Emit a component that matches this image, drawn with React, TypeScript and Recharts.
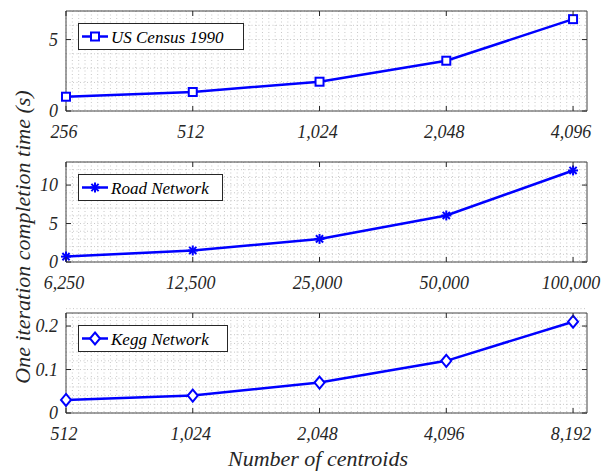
import React from 'react';
import { LineChart, Line, XAxis, YAxis, CartesianGrid, ReferenceArea, Legend } from 'recharts';

// ---- data ----
const censusCats = ['256', '512', '1,024', '2,048', '4,096'];
const censusVals = [1.0, 1.33, 2.05, 3.52, 6.43];
const roadCats = ['6,250', '12,500', '25,000', '50,000', '100,000'];
const roadVals = [0.7, 1.5, 3.0, 6.05, 11.9];
const keggCats = ['512', '1,024', '2,048', '4,096', '8,192'];
const keggVals = [0.03, 0.04, 0.07, 0.12, 0.21];

const censusYTicks = [0, 5];
const roadYTicks = [0, 5, 10];
const keggYTicks = [0, 0.1, 0.2];

const xTickIdx = [0, 1, 2, 3, 4];

// ---- style ----
const BLUE = '#0000ff';
const AXIS = '#262626';
const FONT = '"Liberation Serif", "Times New Roman", serif';
const W = 608;
const PLOT_W = 521;
const PLOT_H = 100;
const X_MAX = 4.11;

function range(start: number, end: number, step: number): number[] {
  const out: number[] = [];
  const n = Math.round((end - start) / step);
  for (let k = 0; k <= n; k++) out.push(+(start + k * step).toFixed(6));
  return out;
}
const xGrid = range(0, 4.1, 0.05);

type Shape = 'square' | 'star' | 'diamond';

function Marker({ cx, cy, shape }: { cx: number; cy: number; shape: Shape }) {
  if (shape === 'square') {
    return <rect x={cx - 4} y={cy - 4} width={8} height={8} fill="#fff" stroke={BLUE} strokeWidth={2} />;
  }
  if (shape === 'diamond') {
    return (
      <polygon
        points={`${cx},${cy - 6} ${cx + 5},${cy} ${cx},${cy + 6} ${cx - 5},${cy}`}
        fill="#fff"
        stroke={BLUE}
        strokeWidth={2}
      />
    );
  }
  const r = 5;
  const d = 3.6;
  return (
    <g stroke={BLUE} strokeWidth={2}>
      <line x1={cx} y1={cy - r} x2={cx} y2={cy + r} />
      <line x1={cx - r} y1={cy} x2={cx + r} y2={cy} />
      <line x1={cx - d} y1={cy - d} x2={cx + d} y2={cy + d} />
      <line x1={cx - d} y1={cy + d} x2={cx + d} y2={cy - d} />
    </g>
  );
}

function LegendBox({ name, shape, width }: { name: string; shape: Shape; width: number }) {
  return (
    <svg width={width} height={27} style={{ display: 'block' }}>
      <rect x={0.5} y={0.5} width={width - 1} height={26} fill="#fff" stroke={AXIS} strokeWidth={1} />
      <line x1={4} y1={13.5} x2={30} y2={13.5} stroke={BLUE} strokeWidth={2.5} />
      <Marker cx={17} cy={13.5} shape={shape} />
      <text x={33} y={19.5} fontFamily={FONT} fontStyle="italic" fontSize={17} fill="#000">
        {name}
      </text>
    </svg>
  );
}

interface PanelProps {
  top: number;
  name: string;
  cats: string[];
  vals: number[];
  yTicks: number[];
  yMax: number;
  yStep: number;
  shape: Shape;
  legendWidth: number;
}

function Panel({ top, name, cats, vals, yTicks, yMax, yStep, shape, legendWidth }: PanelProps) {
  const data = vals.map((v, i) => ({ i, v }));
  const yGrid = range(0, yMax, yStep);
  return (
    <div style={{ position: 'absolute', left: 0, top }}>
      <LineChart width={W} height={150} data={data} margin={{ top: 11, right: 21, left: 0, bottom: 0 }}>
        <CartesianGrid
          stroke="#c8c8c8"
          strokeDasharray="1 2.5"
          horizontalValues={yGrid}
          verticalValues={xGrid}
        />
        <XAxis
          type="number"
          dataKey="i"
          domain={[0, X_MAX]}
          ticks={xTickIdx}
          interval={0}
          axisLine={false}
          tickLine={false}
          tickSize={0}
          tickMargin={0}
          height={39}
          tick={(p: any) => (
            <g key={`xt-${p.index}`}>
              <line x1={p.x} x2={p.x} y1={p.y} y2={p.y - 5} stroke={AXIS} />
              <line x1={p.x} x2={p.x} y1={p.y - PLOT_H} y2={p.y - PLOT_H + 5} stroke={AXIS} />
              <text
                x={p.x - 2}
                y={p.y + 27}
                textAnchor="middle"
                fontFamily={FONT}
                fontStyle="italic"
                fontSize={18}
                fill={AXIS}
              >
                {cats[p.payload.value]}
              </text>
            </g>
          )}
        />
        <YAxis
          type="number"
          domain={[0, yMax]}
          ticks={yTicks}
          interval={0}
          axisLine={false}
          tickLine={false}
          tickSize={0}
          tickMargin={0}
          width={66}
          tick={(p: any) => (
            <g key={`yt-${p.index}`}>
              <line x1={p.x} x2={p.x + 5} y1={p.y} y2={p.y} stroke={AXIS} />
              <line x1={p.x + PLOT_W} x2={p.x + PLOT_W - 5} y1={p.y} y2={p.y} stroke={AXIS} />
              <text
                x={p.x - 8}
                y={p.y}
                textAnchor="end"
                dominantBaseline="central"
                fontFamily={FONT}
                fontStyle="italic"
                fontSize={18}
                fill={AXIS}
              >
                {String(p.payload.value)}
              </text>
            </g>
          )}
        />
        <ReferenceArea x1={0} x2={X_MAX} y1={0} y2={yMax} fill="none" stroke="#444" strokeWidth={1} />
        <Legend
          layout="horizontal"
          verticalAlign="middle"
          align="center"
          wrapperStyle={{ left: 78, top: 23, width: legendWidth }}
          content={() => <LegendBox name={name} shape={shape} width={legendWidth} />}
        />
        <Line
          type="linear"
          dataKey="v"
          name={name}
          stroke={BLUE}
          strokeWidth={2.5}
          isAnimationActive={false}
          dot={(p: any) => <Marker key={`d-${p.index}`} cx={p.cx} cy={p.cy} shape={shape} />}
          activeDot={false}
        />
      </LineChart>
    </div>
  );
}

export default function App() {
  return (
    <div style={{ position: 'absolute', left: 0, top: 0, width: W, height: 472, background: '#fff', overflow: 'hidden' }}>
      <Panel
        top={0}
        name="US Census 1990"
        cats={censusCats}
        vals={censusVals}
        yTicks={censusYTicks}
        yMax={7}
        yStep={1}
        shape="square"
        legendWidth={166}
      />
      <Panel
        top={151}
        name="Road Network"
        cats={roadCats}
        vals={roadVals}
        yTicks={roadYTicks}
        yMax={13}
        yStep={1}
        shape="star"
        legendWidth={145}
      />
      <Panel
        top={302}
        name="Kegg Network"
        cats={keggCats}
        vals={keggVals}
        yTicks={keggYTicks}
        yMax={0.23}
        yStep={0.02}
        shape="diamond"
        legendWidth={150}
      />
      <svg width={W} height={472} style={{ position: 'absolute', left: 0, top: 0, pointerEvents: 'none' }}>
        <text
          transform="translate(30,237) rotate(-90)"
          textAnchor="middle"
          fontFamily={FONT}
          fontStyle="italic"
          fontSize={22}
          fill={AXIS}
        >
          One iteration completion time (s)
        </text>
        <text x={318} y={466} textAnchor="middle" fontFamily={FONT} fontStyle="italic" fontSize={22} fill={AXIS}>
          Number of centroids
        </text>
      </svg>
    </div>
  );
}
